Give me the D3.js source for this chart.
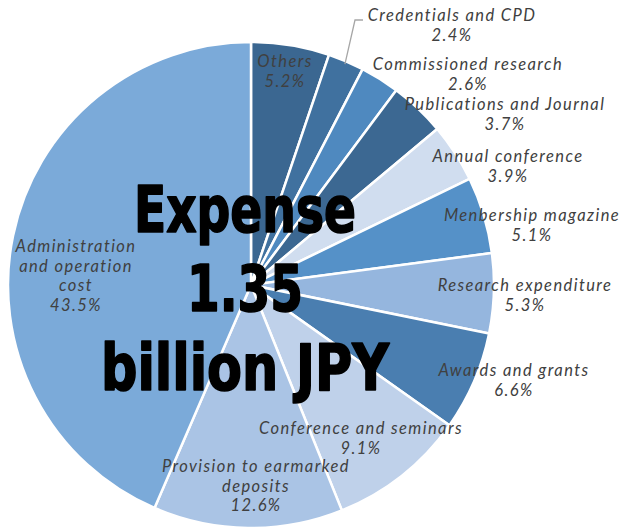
<!DOCTYPE html>
<html><head><meta charset="utf-8">
<script src="https://cdn.jsdelivr.net/npm/d3@7"></script>
<style>body{margin:0;background:#fff}svg{display:block}</style>
</head><body>
<svg id="c" width="631" height="529"></svg>
<script>
const categories = ["Others","Credentials and CPD","Commissioned research","Publications and Journal","Annual conference","Menbership magazine","Research expenditure","Awards and grants","Conference and seminars","Provision to earmarked deposits","Administration and operation cost"];
const values = [5.2,2.4,2.6,3.7,3.9,5.1,5.3,6.6,9.1,12.6,43.5];
const colors = ["#3b6791","#40719f","#4f89bf","#3c6892","#d0ddef","#5591c8","#95b6de","#4a7eb0","#bfd1ea","#aac4e5","#7baad9"];
const labelLines = [["Others"],["Credentials and CPD"],["Commissioned research"],["Publications and Journal"],["Annual conference"],["Menbership magazine"],["Research expenditure"],["Awards and grants"],["Conference and seminars"],["Provision to earmarked","deposits"],["Administration","and operation","cost"]];
const labelPos = [[285,67],[452,21],[468,70],[505,110],[508,162],[532,221],[525,291],[514,376],[361,434],[256,472],[76,252]];
const centerLines = ["Expense","1.35","billion JPY"];

const svg = d3.select("#c");
const cx = 251, cy = 285, R = 243;
const pie = d3.pie().sort(null).value(d=>d)(values);
const arc = d3.arc().innerRadius(0).outerRadius(R);
const g = svg.append("g").attr("transform",`translate(${cx},${cy})`);
g.selectAll("path").data(pie).join("path")
  .attr("d",arc).attr("fill",(d,i)=>colors[i])
  .attr("stroke","#fff").attr("stroke-width",2.5).attr("stroke-linejoin","round");

// leader line for Credentials
const cred = pie[1];
const mid = (cred.startAngle+cred.endAngle)/2;
const p0 = [cx+Math.sin(mid)*(R-3), cy-Math.cos(mid)*(R-3)];
svg.append("polyline").attr("points",`${p0[0]},${p0[1]} 355,20 363,20`)
  .attr("fill","none").attr("stroke","#a6a6a6").attr("stroke-width",1.3);

const lab = svg.append("g").attr("font-family","Lato, 'Open Sans', sans-serif").attr("font-style","italic")
  .attr("font-size",16.5).attr("fill","#404040").attr("text-anchor","middle").attr("letter-spacing",1.4);
labelLines.forEach((lines,i)=>{
  const [x,y] = labelPos[i];
  const all = lines.concat([d3.format(".1f")(values[i])+"%"]);
  all.forEach((t,j)=>{
    lab.append("text").attr("x",x).attr("y",y+j*19.5).text(t);
  });
});

const ct = svg.append("g").attr("font-family","'DejaVu Sans Condensed','DejaVu Sans',sans-serif")
  .attr("font-weight","bold").attr("font-size",64).attr("fill","#000").attr("text-anchor","middle")
  .attr("stroke","#000").attr("stroke-width",1.6).attr("stroke-linejoin","round");
const cw = [222,116,288];
centerLines.forEach((t,j)=>{
  ct.append("text").attr("x",245).attr("y",232+j*79).attr("textLength",cw[j]).attr("lengthAdjust","spacingAndGlyphs").text(t);
});
</script>
</body></html>
